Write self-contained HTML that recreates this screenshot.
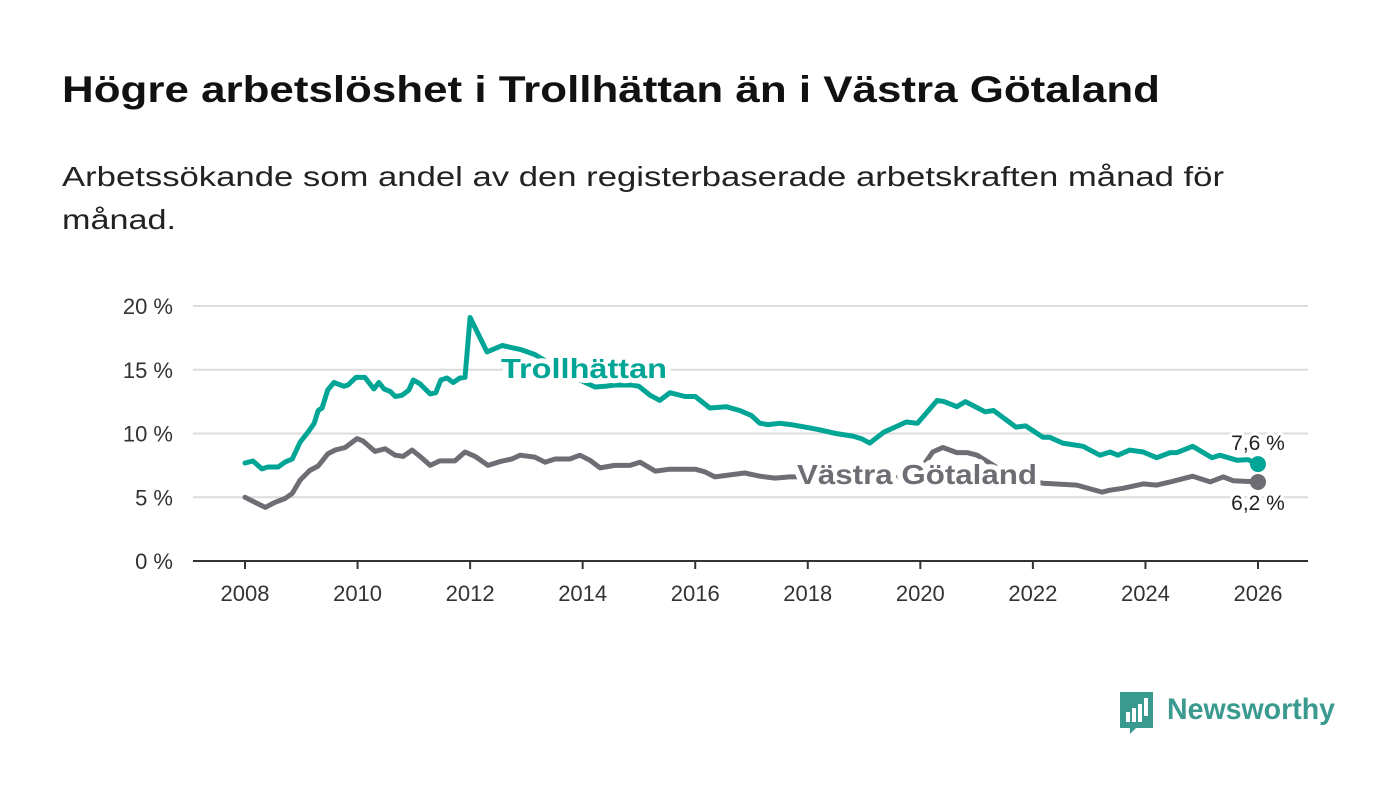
<!DOCTYPE html>
<html><head><meta charset="utf-8"><style>
body{margin:0;background:#fff;}
svg{display:block;font-family:"Liberation Sans",sans-serif;}
</style></head><body>
<svg id="chart" width="1400" height="794" viewBox="0 0 1400 794">
<text x="62" y="102" font-size="37" font-weight="bold" fill="#111" textLength="1098" lengthAdjust="spacingAndGlyphs">Högre arbetslöshet i Trollhättan än i Västra Götaland</text>
<text x="62" y="186" font-size="28" fill="#222" textLength="1162" lengthAdjust="spacingAndGlyphs">Arbetssökande som andel av den registerbaserade arbetskraften månad för</text>
<text x="62" y="229" font-size="28" fill="#222" textLength="114" lengthAdjust="spacingAndGlyphs">månad.</text>
<g id="grid"></g><g id="xaxis"></g><g id="lines"></g><g id="labels"></g>
<g>
<path d="M1120 692 h33 v36 h-17 l-6 6 v-6 h-10 z" fill="#3a9a8f"/>
<rect x="1126" y="712" width="4" height="10" fill="#fff"/><rect x="1132" y="708" width="4" height="14" fill="#fff"/><rect x="1138" y="704" width="4" height="18" fill="#fff"/><rect x="1144" y="698" width="4" height="18" fill="#fff"/>
<text x="1167" y="719" font-size="30" font-weight="bold" fill="#3a9a8f" textLength="168" lengthAdjust="spacingAndGlyphs">Newsworthy</text>
</g>
</svg>
<script>
const yTicks=[0,5,10,15,20];
const yTickLabels=["0 %","5 %","10 %","15 %","20 %"];
const xTicks=[2008,2010,2012,2014,2016,2018,2020,2022,2024,2026];
const trollYears=[2008.0,2008.14,2008.30,2008.41,2008.59,2008.71,2008.84,2008.98,2009.12,2009.23,2009.30,2009.37,2009.47,2009.58,2009.76,2009.83,2009.97,2010.13,2010.29,2010.38,2010.47,2010.58,2010.67,2010.79,2010.91,2010.99,2011.11,2011.29,2011.39,2011.48,2011.59,2011.70,2011.82,2011.91,
2012.0,2012.3,2012.57,2012.89,2013.15,2013.6,2013.95,2014.22,2014.4,2014.57,2014.88,2015.0,2015.2,2015.37,2015.55,2015.82,2016.0,2016.26,2016.55,2016.79,2017.0,2017.15,2017.3,2017.5,2017.7,2017.95,2018.2,2018.5,2018.8,2018.95,2019.1,2019.35,2019.75,2019.95,2020.3,2020.42,2020.65,2020.8,2021.15,2021.3,2021.7,2021.87,
2022.18,2022.30,2022.53,2022.89,2023.19,2023.37,2023.51,2023.72,2023.96,2024.20,2024.44,2024.56,2024.84,2025.18,2025.32,2025.63,2025.82,2026.0];
const trollValues=[7.69,7.84,7.22,7.37,7.37,7.76,8.0,9.33,10.1,10.8,11.8,12.0,13.4,14.0,13.7,13.8,14.4,14.4,13.5,14.0,13.5,13.3,12.9,13.0,13.4,14.2,13.9,13.1,13.2,14.2,14.35,14.0,14.35,14.4,
19.1,16.4,16.9,16.6,16.2,15.0,14.2,13.65,13.7,13.8,13.8,13.7,13.0,12.6,13.2,12.9,12.9,12.0,12.1,11.8,11.4,10.8,10.7,10.8,10.7,10.5,10.3,10.0,9.8,9.6,9.25,10.1,10.9,10.8,12.6,12.5,12.1,12.5,11.7,11.8,10.5,10.6,
9.7,9.7,9.25,9.0,8.3,8.55,8.3,8.7,8.55,8.1,8.5,8.5,9.0,8.1,8.3,7.9,7.95,7.6];
const vgYears=[2008.0,2008.18,2008.36,2008.53,2008.71,2008.84,2008.98,2009.15,2009.30,2009.47,2009.60,2009.78,2009.99,2010.10,2010.31,2010.49,2010.67,2010.81,2010.97,2011.11,2011.29,2011.46,2011.73,2011.91,2012.09,2012.32,2012.53,2012.74,2012.89,2013.15,2013.33,2013.51,2013.77,2013.95,2014.13,2014.31,2014.57,2014.84,2015.02,2015.29,2015.55,2015.82,2016.0,2016.17,2016.35,2016.62,2016.88,2017.15,2017.42,2017.68,2017.86,2018.39,2018.93,2019.46,2019.75,2019.99,2020.22,2020.40,2020.65,2020.83,2021.01,2021.41,2021.77,2022.18,2022.78,2023.23,2023.37,2023.60,2023.96,2024.20,2024.44,2024.84,2025.15,2025.38,2025.56,2026.0];
const vgValues=[5.0,4.6,4.2,4.6,4.9,5.3,6.35,7.1,7.45,8.4,8.7,8.9,9.6,9.4,8.6,8.8,8.3,8.2,8.7,8.2,7.5,7.85,7.85,8.55,8.2,7.5,7.8,8.0,8.3,8.15,7.75,8.0,8.0,8.3,7.9,7.3,7.5,7.5,7.75,7.05,7.2,7.2,7.2,7.0,6.6,6.75,6.9,6.65,6.5,6.6,6.6,6.5,6.35,6.5,6.6,7.1,8.55,8.9,8.5,8.5,8.3,7.2,6.4,6.1,5.95,5.4,5.55,5.7,6.05,5.95,6.2,6.65,6.2,6.6,6.3,6.2];
const NS='http://www.w3.org/2000/svg';
const X0=193,X1=1308;
function xs(yr){return 245+(yr-2008)*(1013/18);}
function ys(v){return 561-v*12.75;}
function mk(tag,attrs,parent){const e=document.createElementNS(NS,tag);for(const k in attrs)e.setAttribute(k,attrs[k]);parent.appendChild(e);return e;}
const grid=document.getElementById('grid');
yTicks.forEach((t,i)=>{
  if(t>0){const l=mk('line',{x1:X0,x2:X1,y1:ys(t),y2:ys(t),stroke:'#dcdcdc','stroke-width':2},grid);
  
  }
  const tx=mk('text',{x:173,y:ys(t)+8,'text-anchor':'end','font-size':22,fill:'#333'},grid);
  tx.textContent=yTickLabels[i];
  
  
});
const xa=document.getElementById('xaxis');
const ax=mk('line',{x1:X0,x2:X1,y1:561,y2:561,stroke:'#333','stroke-width':2},xa);


xTicks.forEach(t=>{
  const tk=mk('line',{x1:xs(t),x2:xs(t),y1:561,y2:569,stroke:'#333','stroke-width':2},xa);
  
  
  const tx=mk('text',{x:xs(t),y:601,'text-anchor':'middle','font-size':22,fill:'#333'},xa);
  tx.textContent=t;
  
  
});
const lines=document.getElementById('lines');
function drawLine(years,vals,color,name){
  const d=years.map((y,i)=>(i?'L':'M')+xs(y).toFixed(1)+' '+ys(vals[i]).toFixed(1)).join(' ');
  const p=mk('path',{d:d,fill:'none',stroke:color,'stroke-width':5,'stroke-linejoin':'round','stroke-linecap':'round'},lines);
  
  
  const n=years.length-1;
  const c=mk('circle',{cx:xs(years[n]),cy:ys(vals[n]),r:8,fill:color},lines);
  
  
}
drawLine(vgYears,vgValues,'#6e6d73','vastra-gotaland');
drawLine(trollYears,trollValues,'#00a596','trollhattan');
const lab=document.getElementById('labels');
function label(x,y,txt,color,name,size,bold,anchor,len){
  const t=mk('text',{x:x,y:y,'font-size':size,'font-weight':bold?'bold':'normal',fill:color,stroke:'#fff','stroke-width':bold?10:6,'paint-order':'stroke','stroke-linejoin':'round','text-anchor':anchor},lab);
  if(len){t.setAttribute('textLength',len);t.setAttribute('lengthAdjust','spacingAndGlyphs');}
  t.textContent=txt;
  
  
}
label(501,378,'Trollhättan','#00a596','trollhattan-label',28,true,'start',166);
label(797,484,'Västra Götaland','#6e6d73','vastra-gotaland-label',28,true,'start',240);
const n1=trollValues.length-1,n2=vgValues.length-1;
label(1258,ys(trollValues[n1])-14,'7,6 %','#222','trollhattan-value-label',21,false,'middle');
label(1258,ys(vgValues[n2])+28,'6,2 %','#222','vastra-gotaland-value-label',21,false,'middle');
</script>
</body></html>
